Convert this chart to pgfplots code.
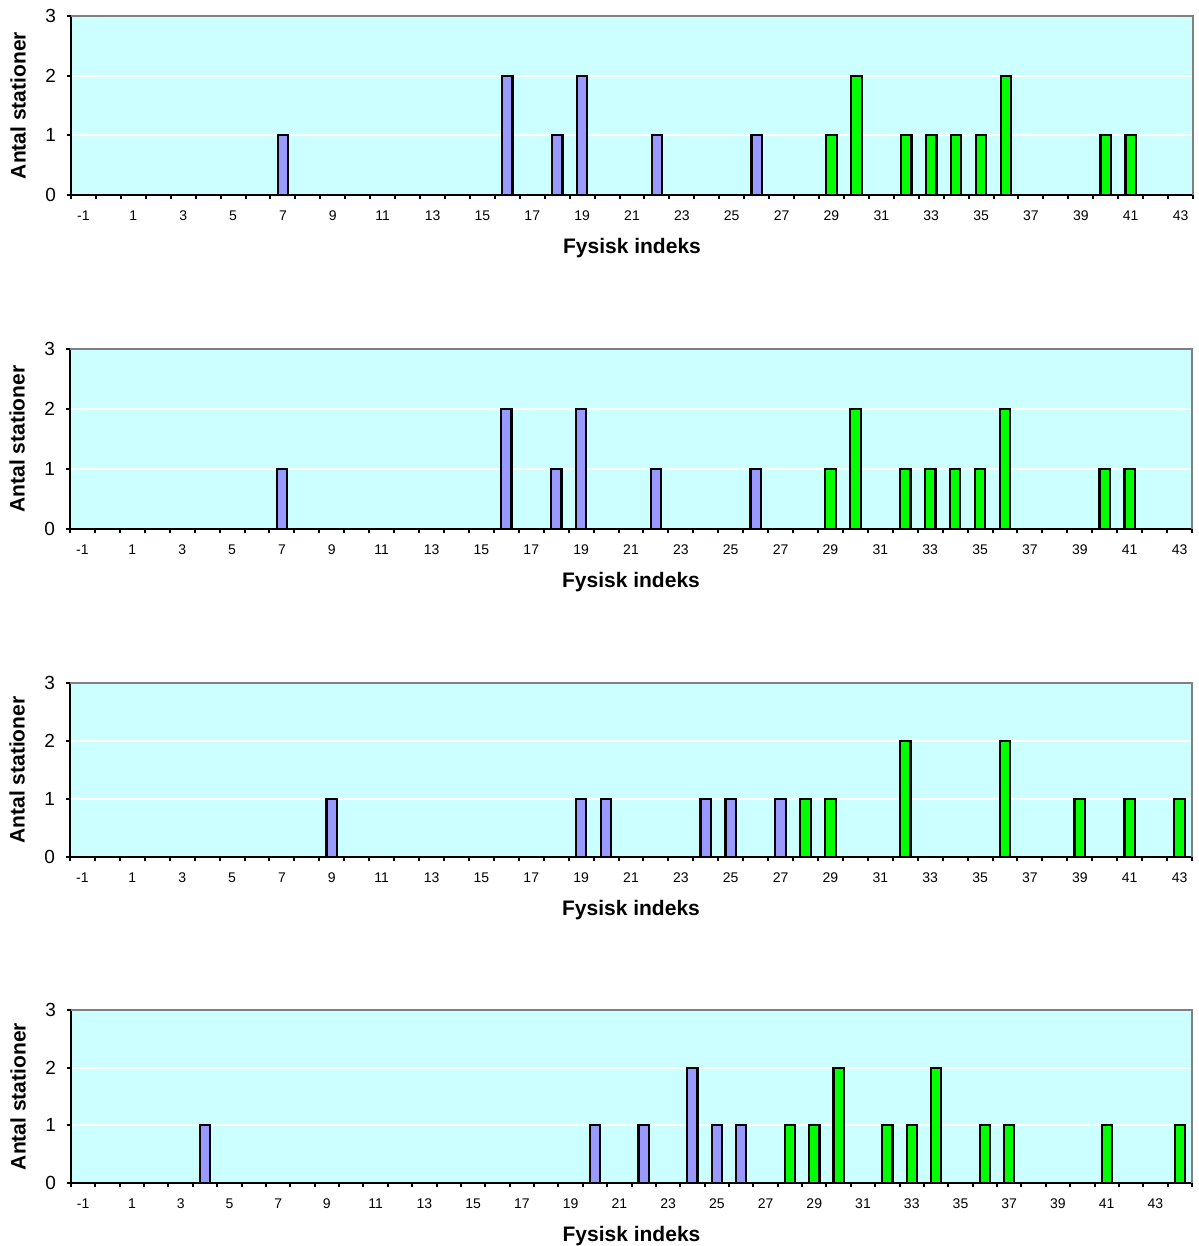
\documentclass[border=0pt]{standalone}
\usepackage{pgfplots}
\pgfplotsset{compat=1.18}
\usepackage{fontspec}
\setmainfont{Liberation Sans}
\definecolor{bgc}{RGB}{204,255,255}
\definecolor{barblue}{RGB}{153,153,255}
\definecolor{bargreen}{RGB}{0,255,0}
\definecolor{frame}{RGB}{128,128,128}
\pgfplotsset{
  panel/.style={
    scale only axis, width=561pt, anchor=north west,
    ymin=0, ymax=3, ytick={0,1,2,3},
    xmin=-1.5, xmax=43.5,
    xtick={-1,1,...,43},
    minor xtick={-1.5,-0.5,...,43.5},
    /pgf/number format/assume math mode=true,
    axis x line*=bottom, axis y line*=left,
    axis line style={black, line width=1.2pt},
    tick align=outside,
    major x tick style={draw=none},
    minor tick length=2pt, major tick length=2pt,
    every tick/.style={black, line width=1pt},
    axis background/.style={fill=bgc},
    ymajorgrids, grid style={white, line width=1pt},
    ybar, bar shift=0pt, bar width=0.42,
    xticklabel style={font=\fontsize{7}{8}\selectfont, anchor=center, yshift=-8.5pt},
    yticklabel style={font=\fontsize{9.5}{11}\selectfont, xshift=-2pt},
    xlabel={Fysisk indeks},
    xlabel style={font=\fontsize{10.5}{12}\selectfont\bfseries, at={(axis description cs:0.5,0)}, anchor=center, yshift=-26.5pt},
    ylabel={Antal stationer},
    ylabel style={font=\fontsize{10.5}{12}\selectfont\bfseries, at={(axis description cs:-0.0472,0.5)}, anchor=center},
    after end axis/.code={\draw[frame, line width=0.9pt] (rel axis cs:0,1) -- (rel axis cs:1,1) -- (rel axis cs:1,0);},
  },
  blue bars/.style={draw=black, line width=1.1pt, fill=barblue},
  green bars/.style={draw=black, line width=1.1pt, fill=bargreen},
}
\begin{document}
\begin{tikzpicture}
\useasboundingbox (0,0) rectangle (599pt,-623pt);
% Panel 1
\begin{axis}[panel, at={(35.5pt,-8pt)}, height=89.5pt]
\addplot[blue bars] coordinates {(7,1) (16,2) (18,1) (19,2) (22,1) (26,1)};
\addplot[green bars] coordinates {(29,1) (30,2) (32,1) (33,1) (34,1) (35,1) (36,2) (40,1) (41,1)};
\end{axis}
% Panel 2
\begin{axis}[panel, at={(35pt,-174.5pt)}, height=90pt]
\addplot[blue bars] coordinates {(7,1) (16,2) (18,1) (19,2) (22,1) (26,1)};
\addplot[green bars] coordinates {(29,1) (30,2) (32,1) (33,1) (34,1) (35,1) (36,2) (40,1) (41,1)};
\end{axis}
% Panel 3
\begin{axis}[panel, at={(35pt,-341.5pt)}, height=87pt]
\addplot[blue bars] coordinates {(9,1) (19,1) (20,1) (24,1) (25,1) (27,1)};
\addplot[green bars] coordinates {(28,1) (29,1) (32,2) (36,2) (39,1) (41,1) (43,1)};
\end{axis}
% Panel 4
\begin{axis}[panel, at={(35.5pt,-505pt)}, height=86.5pt, width=560.5pt,
  xmax=44.5, minor xtick={-1.5,-0.5,...,44.5}]
\addplot[blue bars] coordinates {(4,1) (20,1) (22,1) (24,2) (25,1) (26,1)};
\addplot[green bars] coordinates {(28,1) (29,1) (30,2) (32,1) (33,1) (34,2) (36,1) (37,1) (41,1) (44,1)};
\end{axis}
\end{tikzpicture}
\end{document}
